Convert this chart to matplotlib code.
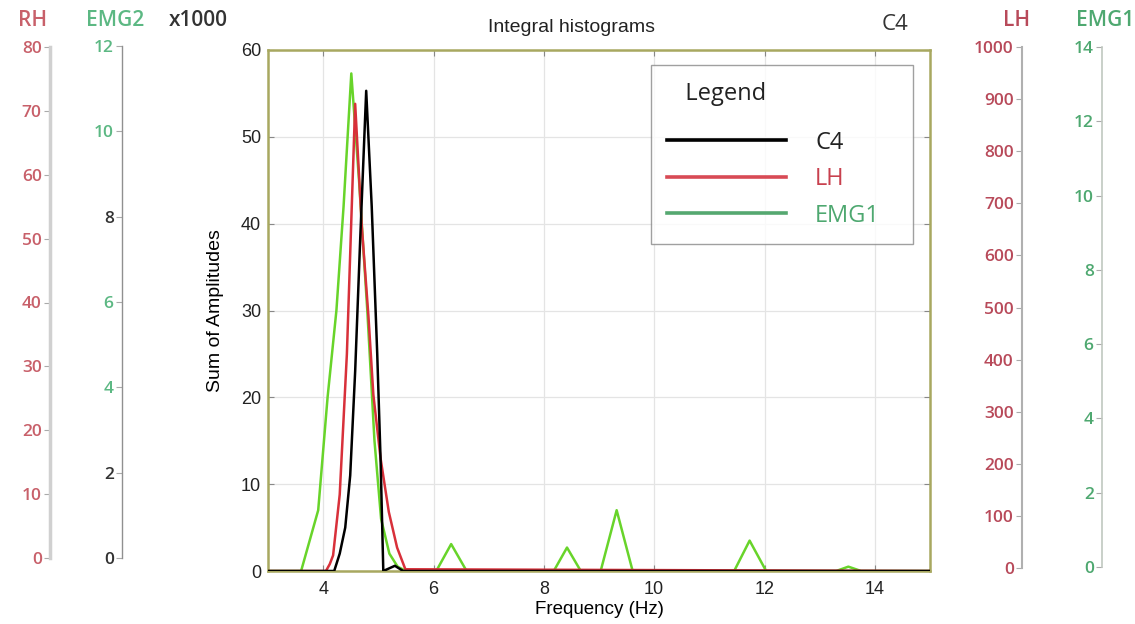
import matplotlib.pyplot as plt

# values (Sum of Amplitudes units)
freq_c4 = [3.0, 4.2, 4.3, 4.4, 4.49, 4.58, 4.67, 4.78, 4.88, 4.98, 5.04, 5.09, 5.3, 5.45, 15.0]
c4 = [0, 0, 2, 5, 11, 23, 38, 55.3, 42, 25, 13, 0, 0.6, 0, 0]

freq_lh = [3.0, 4.05, 4.12, 4.18, 4.30, 4.43, 4.58, 4.70, 4.82, 4.91, 5.04, 5.19, 5.34, 5.49, 15.0]
lh = [0, 0, 0.8, 1.8, 8.8, 25, 53.8, 39.7, 29.4, 20.3, 13, 6.8, 2.7, 0.2, 0]

freq_emg1 = [3.0, 3.6, 3.91, 4.08, 4.24, 4.37, 4.51, 4.65, 4.8, 4.93, 5.05, 5.2, 5.35, 5.5,
             6.05, 6.32, 6.6, 8.18, 8.42, 8.67, 9.03, 9.32, 9.61, 11.45, 11.73, 12.03,
             13.3, 13.52, 13.75, 15.0]
emg1 = [0, 0, 7, 20, 30, 42, 57.3, 45, 30, 15, 6, 2, 0.5, 0,
        0, 3.1, 0, 0, 2.7, 0, 0, 7.0, 0, 0, 3.5, 0,
        0, 0.5, 0, 0]

series_names = ["C4", "LH", "EMG1"]
series_colors = ["black", "#d8303a", "#68d42a"]
legend_line_colors = ["black", "#d84a55", "#55a870"]
legend_text_colors = ["#222222", "#c8404e", "#4ea870"]

rh_ticks = [0, 10, 20, 30, 40, 50, 60, 70, 80]
emg2_ticks = [0, 2, 4, 6, 8, 10, 12]
emg2_tick_colors = ["#333333", "#333333", "#5cb883", "#5cb883", "#333333", "#5cb883", "#5cb883"]
lh_ticks = [0, 100, 200, 300, 400, 500, 600, 700, 800, 900, 1000]
emg1_ticks = [0, 2, 4, 6, 8, 10, 12, 14]

W, H = 1135, 624
fig = plt.figure(figsize=(W / 100, H / 100), dpi=100)


def px_box(left, top, right, bottom):
    return [left / W, 1 - bottom / H, (right - left) / W, (bottom - top) / H]


def fig_text(x, y, s, **kw):
    fig.text(x / W, 1 - y / H, s, ha="center", va="center", **kw)


# main axes
ax = fig.add_axes(px_box(268, 50, 930, 571))
for fx, fy, col in zip([freq_emg1, freq_lh, freq_c4], [emg1, lh, c4], series_colors[::-1]):
    ax.plot(fx, fy, color=col, lw=1.8, zorder=3)
ax.set_xlim(3, 15)
ax.set_ylim(0, 60)
ax.set_xticks([4, 6, 8, 10, 12, 14])
ax.set_yticks([0, 10, 20, 30, 40, 50, 60])
ax.grid(True, color="#e4e4e4", lw=0.9)
ax.tick_params(direction="in", length=4, top=True, right=True, color="#888888",
               labelsize=13, pad=5)
ax.tick_params(axis="x", pad=7)
for t in ax.get_xticklabels() + ax.get_yticklabels():
    t.set_fontfamily("Liberation Sans")
    t.set_color("#222222")
for sp in ax.spines.values():
    sp.set_color("#a8a860")
    sp.set_linewidth(1.8)
ax.set_xlabel("Frequency (Hz)", fontfamily="Liberation Sans", fontsize=13.5, labelpad=2)
ax.set_ylabel("Sum of Amplitudes", fontfamily="Liberation Sans", fontsize=14, labelpad=12)

# legend
handles = [plt.Line2D([], [], color=c, lw=2.6) for c in legend_line_colors]
leg = ax.legend(handles, series_names, title="   Legend", loc="upper left",
                bbox_to_anchor=(0.5785, 0.5, 0.396, 0.471), mode="expand",
                frameon=True, fancybox=False,
                edgecolor="#888888", handlelength=5.0, handletextpad=1.25,
                borderpad=0.7, labelspacing=0.53, borderaxespad=0,
                prop={"family": "Open Sans", "size": 17},
                title_fontproperties={"family": "Open Sans", "size": 17})
leg._legend_box.align = "left"
leg._legend_box.sep = 18
leg.get_frame().set_linewidth(1.0)
for t, c in zip(leg.get_texts(), legend_text_colors):
    t.set_color(c)
leg.get_title().set_color("#222222")


# extra side axes
def side_axis(x, top, bottom, ticks, lab_colors, spine_color, spine_w):
    a = fig.add_axes(px_box(x, top, x + 1, bottom))
    a.set_ylim(ticks[0], ticks[-1])
    a.set_yticks(ticks)
    a.set_xticks([])
    for k in ["top", "right", "bottom"]:
        a.spines[k].set_visible(False)
    a.spines["left"].set_color(spine_color)
    a.spines["left"].set_linewidth(spine_w)
    a.patch.set_visible(False)
    a.tick_params(axis="y", length=4, color="#aaaaaa", labelsize=12.5, pad=2)
    for t, c in zip(a.get_yticklabels(), lab_colors):
        t.set_color(c)
        t.set_fontfamily("Open Sans")
        t.set_fontweight("semibold")
    return a


side_axis(50, 47, 558, rh_ticks, ["#c8606a"] * len(rh_ticks), "#d0d0d0", 2.5)
side_axis(122, 46, 558, emg2_ticks, emg2_tick_colors, "#909090", 1.0)
side_axis(1022, 47, 568, lh_ticks, ["#b84a5a"] * len(lh_ticks), "#b0b0b0", 1.5)
side_axis(1102, 47, 567, emg1_ticks, ["#4ea870"] * len(emg1_ticks), "#c0c8c0", 1.2)

# headings
head = dict(fontsize=15, fontfamily="Open Sans", fontweight="semibold")
fig_text(33, 20, "RH", color="#c8606a", **head)
fig_text(115, 20, "EMG2", color="#5cb883", **head)
fig_text(198, 20, "x1000", color="#333333", **head)
fig_text(1017, 20, "LH", color="#b84a5a", **head)
fig_text(1105, 20, "EMG1", color="#4ea870", **head)
fig_text(571, 28, "Integral histograms", color="#222222", fontsize=14, fontfamily="Liberation Sans")
fig_text(895, 24, "C4", color="#333333", fontsize=16, fontfamily="Open Sans")

fig.savefig("out.png", dpi=100)
